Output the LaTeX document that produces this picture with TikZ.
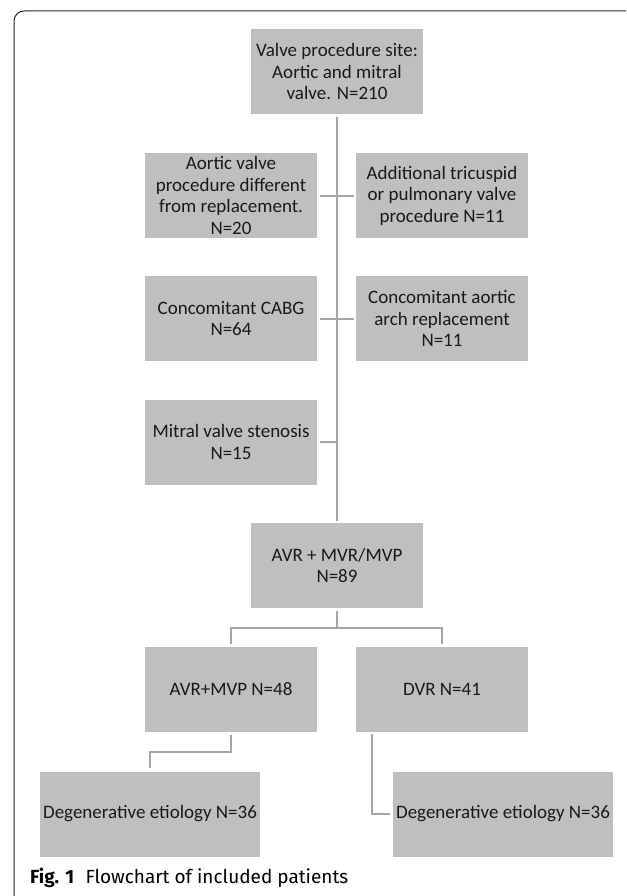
\documentclass[tikz,border=0pt]{standalone}
\usepackage{fontspec}
\setmainfont{Carlito}
\newfontfamily\capfont{Fira Sans}
\usetikzlibrary{positioning,calc}

\definecolor{boxgray}{HTML}{BFBFBF}
\definecolor{linkgray}{HTML}{A6A6A6}

\begin{document}
\begin{tikzpicture}[x=1pt, y=-1pt,
        box/.style={fill=boxgray, rectangle, minimum width=172pt, minimum height=85pt, align=center, inner sep=0pt, font=\fontsize{19}{21.5}\selectfont, text=black!90},
        widebox/.style={box, minimum width=220pt},
        link/.style={draw=linkgray, line width=2pt},
        frame/.style={draw=black!85, line width=1pt, rounded corners=10pt}
    ]
        \useasboundingbox (0,0) rectangle (626,896);
        \draw[frame] (14,896) -- (14,11) -- (626,11);

        % Exclusions from the trunk
        \node[box] (site) at (337, 71.5) {Valve procedure site:\\Aortic and mitral\\valve. N=210};
        \node[box] (aortic) at (231, 195.5) {Aortic valve\\procedure different\\from replacement.\\N=20};
        \node[box] (tricuspid) at (442, 195.5) {Additional tricuspid\\or pulmonary valve\\procedure N=11};
        \node[box] (cabg) at (231, 318.5) {Concomitant CABG\\N=64};
        \node[box] (arch) at (442, 318.5) {Concomitant aortic\\arch replacement\\N=11};
        \node[box] (stenosis) at (231, 442) {Mitral valve stenosis\\N=15};

        % Included groups
        \node[box] (avr) at (337, 565.5) {AVR + MVR/MVP\\N=89};
        \node[box] (avrmvp) at (231, 689.5) {AVR+MVP N=48};
        \node[box] (dvr) at (442, 689.5) {DVR N=41};
        \node[widebox] (degleft) at (150, 814) {Degenerative etiology N=36};
        \node[widebox] (degright) at (503, 814) {Degenerative etiology N=36};

        \coordinate (split) at (337, 628);

        \draw[link] ([yshift=-3pt]site.south) -- ([yshift=2pt]avr.north);
        \draw[link] ([xshift=3pt]aortic.east) -- ([xshift=-2pt]tricuspid.west);
        \draw[link] ([xshift=3pt]cabg.east) -- ([xshift=-2pt]arch.west);
        \draw[link] ([xshift=3pt]stenosis.east) -- (stenosis.east -| site.south);
        \draw[link] ([yshift=-3pt]avr.south) -- (split);
        \draw[link] ([yshift=3pt]avrmvp.north) |- (split) -| ([yshift=3pt]dvr.north);
        \draw[link] ([yshift=-3pt]avrmvp.south) -- ++(0,17) -| ([yshift=3pt]degleft.north);
        \draw[link] ([xshift=16pt,yshift=-2pt]dvr.south west) |- ([xshift=-3pt]degright.west);

        \node[anchor=base west, inner sep=0pt, font=\capfont\fontsize{19}{22}\selectfont] (caption) at (30, 883) {\textbf{Fig. 1}\hspace{0.6em}Flowchart of included patients};
    \end{tikzpicture}
\end{document}
